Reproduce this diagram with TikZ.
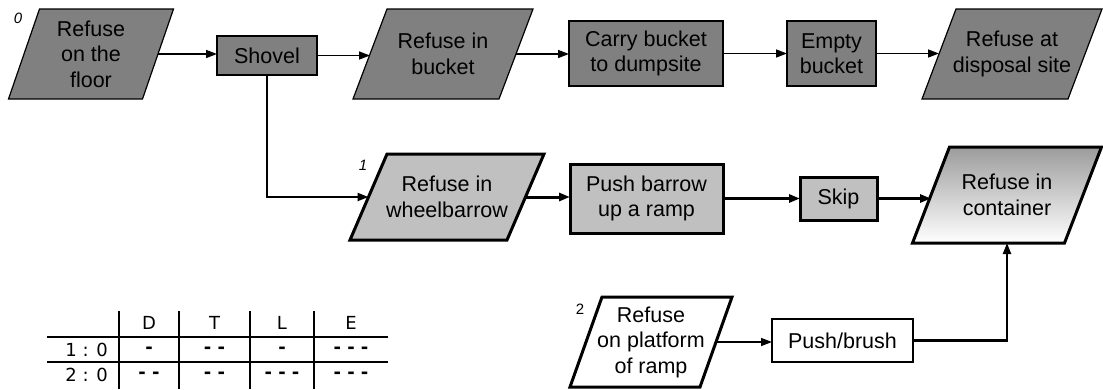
\documentclass[tikz,border=0pt]{standalone}
\usepackage{fontspec}
\setmainfont{Liberation Sans}
\newfontfamily\tabfont{DejaVu Sans}
\usetikzlibrary{arrows.meta,backgrounds,calc}
\definecolor{darkfill}{HTML}{808080}
\definecolor{lightfill}{HTML}{C0C0C0}
\definecolor{shadetop}{HTML}{9C9C9C}
\newcommand\paraoutline[3]{%
  \path[#1] ([xshift=#3]#2.north west) -- ([xshift=#3]#2.north east)
    -- ([xshift=-#3]#2.south east) -- ([xshift=-#3]#2.south west) -- cycle;}
\begin{document}
\begin{tikzpicture}[x=1pt,y=-1pt,
  txt/.style={font=\fontsize{21.5}{25.5}\selectfont, align=center, inner sep=0pt, outer sep=0pt},
  darkbox/.style={txt, draw=black, line width=1.2pt, fill=darkfill},
  lightbox/.style={txt, draw=black, line width=3pt, fill=lightfill},
  whitebox/.style={txt, draw=black, line width=2.4pt, fill=white},
  darkpara/.style={draw=black, line width=1.2pt, fill=darkfill},
  lightpara/.style={draw=black, line width=3pt, fill=lightfill},
  whitepara/.style={draw=black, line width=3pt, fill=white},
  shadepara/.style={draw=black, line width=3pt, top color=shadetop, bottom color=white},
  lbl/.style={font=\fontsize{15}{15}\selectfont, inner sep=0pt},
  arrthin/.style={-{Triangle[length=11pt,width=8pt]}, line width=1.5pt},
  arrmid/.style={-{Triangle[length=11pt,width=8pt]}, line width=2.2pt},
  arrthick/.style={-{Triangle[length=11pt,width=8pt]}, line width=3pt},
  tabline/.style={line width=2.4pt},
  tabtxt/.style={font=\tabfont\fontsize{18}{18}\selectfont, inner sep=0pt},
  dashtxt/.style={font=\tabfont\bfseries\fontsize{18}{18}\selectfont, inner sep=0pt}
]
\useasboundingbox (0,0) rectangle (1103,389);

% top row
\node[txt, minimum width=134pt, minimum height=90pt] (p0) at (91,54) {Refuse\\on the\\floor};
\node[darkbox, minimum width=100pt, minimum height=39pt] (shovel) at (267,55.5) {Shovel};
\node[txt, minimum width=146pt, minimum height=90pt] (bucket) at (443,54) {Refuse in\\bucket};
\node[darkbox, minimum width=154pt, minimum height=65pt] (carry) at (646,53.5) {Carry bucket\\to dumpsite};
\node[darkbox, minimum width=89pt, minimum height=65pt] (empty) at (831.5,53.5) {Empty\\bucket};
\node[txt, minimum width=146pt, minimum height=90pt] (disp) at (1012,54) {Refuse at\\disposal site};

% middle row
\node[txt, minimum width=157pt, minimum height=86pt] (p1) at (447,197) {Refuse in\\wheelbarrow};
\node[lightbox, minimum width=153pt, minimum height=69pt] (push) at (646.5,198.5) {Push barrow\\up a ramp};
\node[lightbox, minimum width=77pt, minimum height=43pt] (skip) at (838.5,198.5) {Skip};
\node[txt, minimum width=152pt, minimum height=96pt] (cont) at (1007,195) {Refuse in\\container};

% bottom row
\node[txt, minimum width=130pt, minimum height=90pt] (p2) at (651,342) {Refuse\\on platform\\of ramp};
\node[whitebox, minimum width=141pt, minimum height=43pt] (pb) at (842.5,340.5) {Push/brush};

% parallelogram outlines
\begin{scope}[on background layer]
  \paraoutline{darkpara}{p0}{15.5pt}
  \paraoutline{darkpara}{bucket}{17pt}
  \paraoutline{darkpara}{disp}{17pt}
  \paraoutline{lightpara}{p1}{18.5pt}
  \paraoutline{shadepara}{cont}{18.5pt}
  \paraoutline{whitepara}{p2}{16pt}
\end{scope}

% scenario labels
\node[lbl, font=\fontsize{15}{15}\selectfont\itshape] (l0) at (18,18) {0};
\node[lbl, font=\fontsize{15}{15}\selectfont\itshape] (l1) at (363,165) {1};
\node[lbl] (l2) at (580,309) {2};

% connectors
\draw[arrthin] (p0.east) -- (p0.east -| shovel.west);
\draw[arrthin] (shovel.east) -- (shovel.east -| bucket.west);
\draw[arrthin] (bucket.east) -- (bucket.east -| carry.west);
\draw[arrthin] (carry.east) -- (carry.east -| empty.west);
\draw[arrthin] (empty.east) -- (empty.east -| disp.west);
\draw[arrmid] (shovel.south) |- (p1.west);
\draw[arrthick] (p1.east) -- (p1.east -| push.west);
\draw[arrthick] (push.east) -- (push.east -| skip.west);
\draw[arrthick] (skip.east) -- (skip.east -| cont.west);
\draw[arrthin] (p2.east) -- (p2.east -| pb.west);
\draw[arrmid] (pb.east) -| (cont.south);

% table
\draw[tabline] (47,337) -- (388,337);
\draw[tabline] (47,362) -- (388,362);
\foreach \xx in {119,179,250,314} \draw[tabline] (\xx,311) -- (\xx,389);
\node[tabtxt] (hD) at (149,323) {D};
\node[tabtxt] (hT) at (214.5,323) {T};
\node[tabtxt] (hL) at (282,323) {L};
\node[tabtxt] (hE) at (351,323) {E};
\node[tabtxt, anchor=east] (r1) at (108,350) {1 : 0};
\node[tabtxt, anchor=east] (r2) at (108,375) {2 : 0};
\node[dashtxt] (a1) at (149,350) {-};
\node[dashtxt] (b1) at (214.5,350) {- -};
\node[dashtxt] (c1) at (282,350) {-};
\node[dashtxt] (d1) at (351,350) {- - -};
\node[dashtxt] (a2) at (149,375) {- -};
\node[dashtxt] (b2) at (214.5,375) {- -};
\node[dashtxt] (c2) at (282,375) {- - -};
\node[dashtxt] (d2) at (351,375) {- - -};
\end{tikzpicture}
\end{document}
